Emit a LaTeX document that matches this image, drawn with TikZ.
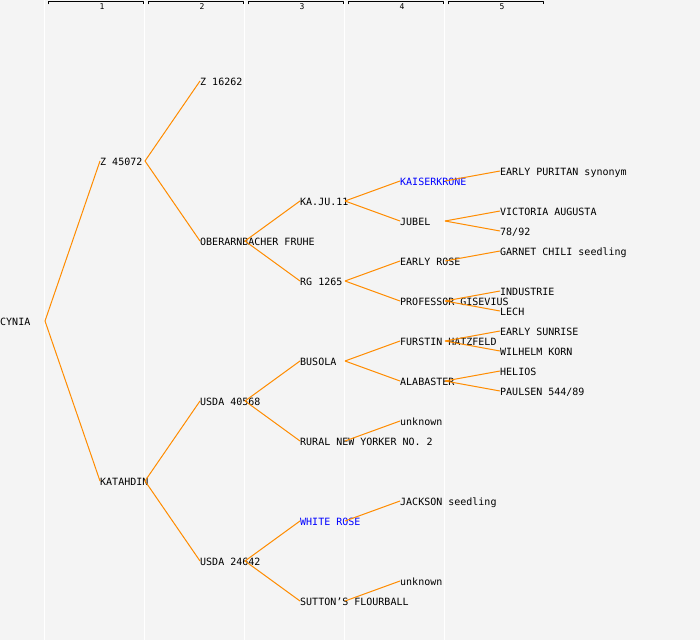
\documentclass[tikz,border=0pt]{standalone}
\usepackage{fontspec}
\setmonofont{DejaVu Sans Mono}
\usetikzlibrary{calc}
\definecolor{pedbg}{RGB}{244,244,244}
\definecolor{pedline}{RGB}{255,140,0}
\definecolor{pedblue}{RGB}{0,0,255}

\begin{document}
\begin{tikzpicture}[x=1bp,y=1bp,line join=bevel,
  pedname/.style={anchor=west,inner sep=0pt,text height=9.3bp,text depth=0bp,
    font=\ttfamily\fontsize{10bp}{12bp}\selectfont},
  pedlink/.style={pedline,line width=1bp},
  colsep/.style={white,line width=1bp},
  genbar/.style={black,line width=1bp},
  genlabel/.style={inner sep=0pt,font=\ttfamily\fontsize{8bp}{9bp}\selectfont},
]
%%
\fill [pedbg] (0bp,0bp) rectangle (700bp,640bp);
\useasboundingbox (0bp,0bp) rectangle (700bp,640bp);
\draw [colsep] (44.5bp,0bp) -- (44.5bp,640bp);
\draw [colsep] (144.5bp,0bp) -- (144.5bp,640bp);
\draw [colsep] (244.5bp,0bp) -- (244.5bp,640bp);
\draw [colsep] (344.5bp,0bp) -- (344.5bp,640bp);
\draw [colsep] (444.5bp,0bp) -- (444.5bp,640bp);
\draw [genbar] (48bp,635.5bp) -- (48bp,638.5bp) -- (143bp,638.5bp) -- (143bp,635.5bp);
\draw [genbar] (148bp,635.5bp) -- (148bp,638.5bp) -- (243bp,638.5bp) -- (243bp,635.5bp);
\draw [genbar] (248bp,635.5bp) -- (248bp,638.5bp) -- (343bp,638.5bp) -- (343bp,635.5bp);
\draw [genbar] (348bp,635.5bp) -- (348bp,638.5bp) -- (443bp,638.5bp) -- (443bp,635.5bp);
\draw [genbar] (448bp,635.5bp) -- (448bp,638.5bp) -- (543bp,638.5bp) -- (543bp,635.5bp);
\node (gen_1) at (102bp,633.5bp) [genlabel] {1};
\node (gen_2) at (202bp,633.5bp) [genlabel] {2};
\node (gen_3) at (302bp,633.5bp) [genlabel] {3};
\node (gen_4) at (402bp,633.5bp) [genlabel] {4};
\node (gen_5) at (502bp,633.5bp) [genlabel] {5};
%%
\node (node_cynia) at (0bp,319bp) [pedname] {CYNIA};
  \node (node_z45072) at (100bp,479bp) [pedname] {Z 45072};
  \node (node_katahdin) at (100bp,159bp) [pedname] {KATAHDIN};
  \node (node_z16262) at (200bp,559bp) [pedname] {Z 16262};
  \node (node_oberarnbacher) at (200bp,399bp) [pedname] {OBERARNBACHER FRUHE};
  \node (node_usda40568) at (200bp,239bp) [pedname] {USDA 40568};
  \node (node_usda24642) at (200bp,79bp) [pedname] {USDA 24642};
  \node (node_kaju) at (300bp,439bp) [pedname] {KA.JU.11};
  \node (node_rg1265) at (300bp,359bp) [pedname] {RG 1265};
  \node (node_busola) at (300bp,279bp) [pedname] {BUSOLA};
  \node (node_rural) at (300bp,199bp) [pedname] {RURAL NEW YORKER NO. 2};
  \node (node_whiterose) at (300bp,119bp) [pedname,text=pedblue] {WHITE ROSE};
  \node (node_sutton) at (300bp,39bp) [pedname] {SUTTON’S FLOURBALL};
  \node (node_kaiserkrone) at (400bp,459bp) [pedname,text=pedblue] {KAISERKRONE};
  \node (node_jubel) at (400bp,419bp) [pedname] {JUBEL};
  \node (node_earlyrose) at (400bp,379bp) [pedname] {EARLY ROSE};
  \node (node_gisevius) at (400bp,339bp) [pedname] {PROFESSOR GISEVIUS};
  \node (node_hatzfeld) at (400bp,299bp) [pedname] {FURSTIN HATZFELD};
  \node (node_alabaster) at (400bp,259bp) [pedname] {ALABASTER};
  \node (node_unknown_1) at (400bp,219bp) [pedname] {unknown};
  \node (node_jackson) at (400bp,139bp) [pedname] {JACKSON seedling};
  \node (node_unknown_2) at (400bp,59bp) [pedname] {unknown};
  \node (node_puritan) at (500bp,469bp) [pedname] {EARLY PURITAN synonym};
  \node (node_victoria) at (500bp,429bp) [pedname] {VICTORIA AUGUSTA};
  \node (node_7892) at (500bp,409bp) [pedname] {78/92};
  \node (node_garnet) at (500bp,389bp) [pedname] {GARNET CHILI seedling};
  \node (node_industrie) at (500bp,349bp) [pedname] {INDUSTRIE};
  \node (node_lech) at (500bp,329bp) [pedname] {LECH};
  \node (node_sunrise) at (500bp,309bp) [pedname] {EARLY SUNRISE};
  \node (node_korn) at (500bp,289bp) [pedname] {WILHELM KORN};
  \node (node_helios) at (500bp,269bp) [pedname] {HELIOS};
  \node (node_paulsen) at (500bp,249bp) [pedname] {PAULSEN 544/89};
  \draw [pedlink] ([xshift=45bp]node_cynia.west) -- (node_z45072.west);
  \draw [pedlink] ([xshift=45bp]node_cynia.west) -- (node_katahdin.west);
  \draw [pedlink] ([xshift=45bp]node_z45072.west) -- (node_z16262.west);
  \draw [pedlink] ([xshift=45bp]node_z45072.west) -- (node_oberarnbacher.west);
  \draw [pedlink] ([xshift=45bp]node_katahdin.west) -- (node_usda40568.west);
  \draw [pedlink] ([xshift=45bp]node_katahdin.west) -- (node_usda24642.west);
  \draw [pedlink] ([xshift=45bp]node_oberarnbacher.west) -- (node_kaju.west);
  \draw [pedlink] ([xshift=45bp]node_oberarnbacher.west) -- (node_rg1265.west);
  \draw [pedlink] ([xshift=45bp]node_usda40568.west) -- (node_busola.west);
  \draw [pedlink] ([xshift=45bp]node_usda40568.west) -- (node_rural.west);
  \draw [pedlink] ([xshift=45bp]node_usda24642.west) -- (node_whiterose.west);
  \draw [pedlink] ([xshift=45bp]node_usda24642.west) -- (node_sutton.west);
  \draw [pedlink] ([xshift=45bp]node_kaju.west) -- (node_kaiserkrone.west);
  \draw [pedlink] ([xshift=45bp]node_kaju.west) -- (node_jubel.west);
  \draw [pedlink] ([xshift=45bp]node_rg1265.west) -- (node_earlyrose.west);
  \draw [pedlink] ([xshift=45bp]node_rg1265.west) -- (node_gisevius.west);
  \draw [pedlink] ([xshift=45bp]node_busola.west) -- (node_hatzfeld.west);
  \draw [pedlink] ([xshift=45bp]node_busola.west) -- (node_alabaster.west);
  \draw [pedlink] ([xshift=45bp]node_rural.west) -- (node_unknown_1.west);
  \draw [pedlink] ([xshift=45bp]node_whiterose.west) -- (node_jackson.west);
  \draw [pedlink] ([xshift=45bp]node_sutton.west) -- (node_unknown_2.west);
  \draw [pedlink] ([xshift=45bp]node_kaiserkrone.west) -- (node_puritan.west);
  \draw [pedlink] ([xshift=45bp]node_jubel.west) -- (node_victoria.west);
  \draw [pedlink] ([xshift=45bp]node_jubel.west) -- (node_7892.west);
  \draw [pedlink] ([xshift=45bp]node_earlyrose.west) -- (node_garnet.west);
  \draw [pedlink] ([xshift=45bp]node_gisevius.west) -- (node_industrie.west);
  \draw [pedlink] ([xshift=45bp]node_gisevius.west) -- (node_lech.west);
  \draw [pedlink] ([xshift=45bp]node_hatzfeld.west) -- (node_sunrise.west);
  \draw [pedlink] ([xshift=45bp]node_hatzfeld.west) -- (node_korn.west);
  \draw [pedlink] ([xshift=45bp]node_alabaster.west) -- (node_helios.west);
  \draw [pedlink] ([xshift=45bp]node_alabaster.west) -- (node_paulsen.west);
%
\end{tikzpicture}
\end{document}
